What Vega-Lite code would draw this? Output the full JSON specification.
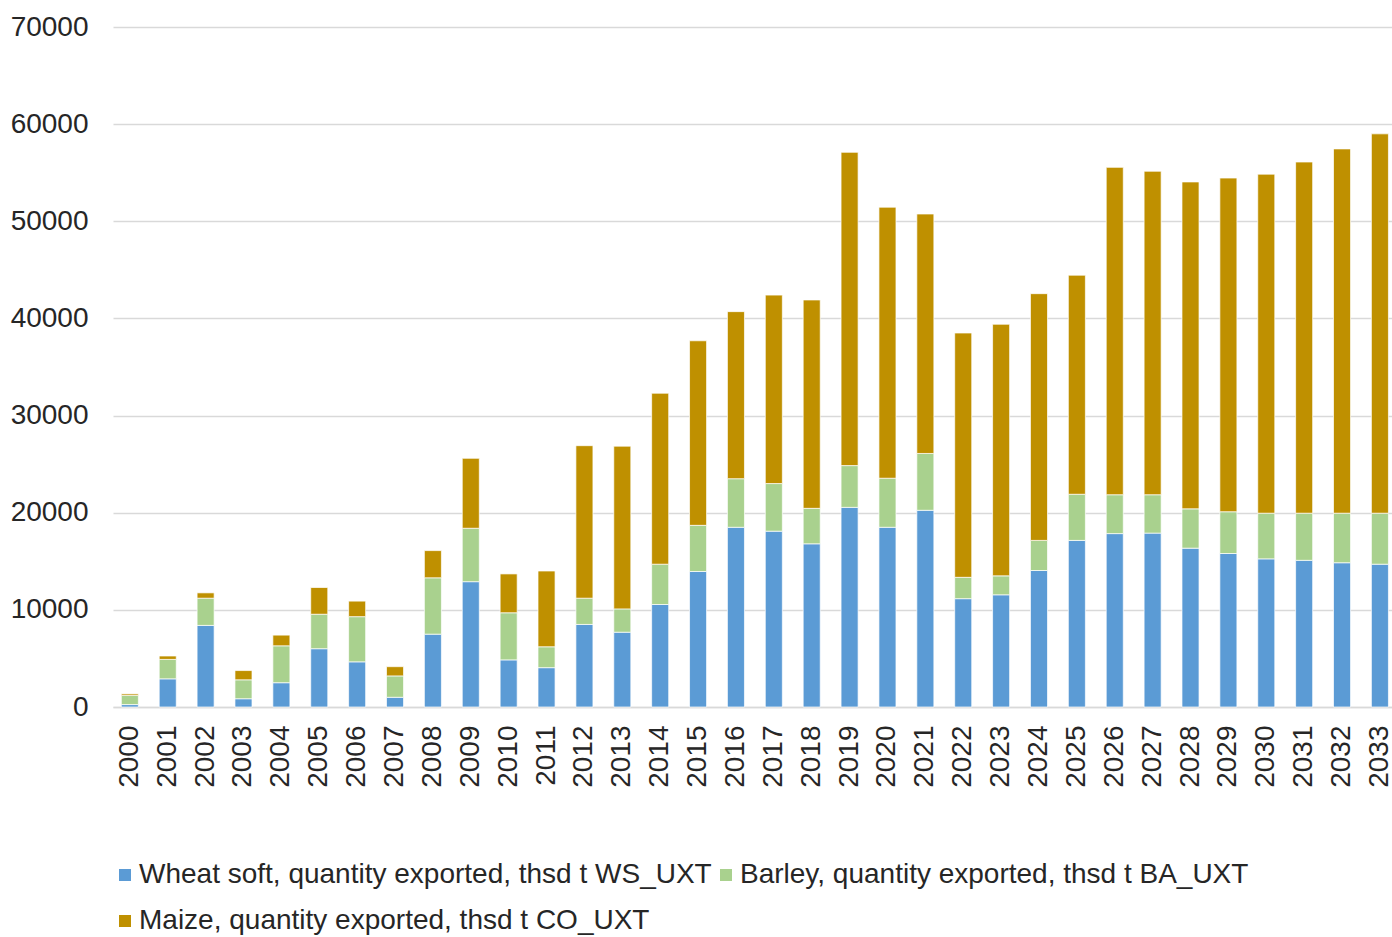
{
  "$schema": "https://vega.github.io/schema/vega-lite/v6.json",
  "width": 1279,
  "height": 680,
  "autosize": "none",
  "padding": {"left": 113, "top": 27, "right": 0, "bottom": 230},
  "background": "white",
  "config": {
    "view": {"stroke": null},
    "font": "Liberation Sans"
  },
  "data": {
    "values": [
      {"year": "2000", "wheat": 250, "barley": 950, "maize": 150},
      {"year": "2001", "wheat": 2900, "barley": 2000, "maize": 350},
      {"year": "2002", "wheat": 8400, "barley": 2800, "maize": 550},
      {"year": "2003", "wheat": 850, "barley": 1950, "maize": 950},
      {"year": "2004", "wheat": 2500, "barley": 3800, "maize": 1100},
      {"year": "2005", "wheat": 6000, "barley": 3550, "maize": 2750},
      {"year": "2006", "wheat": 4650, "barley": 4650, "maize": 1600},
      {"year": "2007", "wheat": 1000, "barley": 2200, "maize": 950},
      {"year": "2008", "wheat": 7500, "barley": 5800, "maize": 2800},
      {"year": "2009", "wheat": 12900, "barley": 5500, "maize": 7200},
      {"year": "2010", "wheat": 4850, "barley": 4850, "maize": 4000},
      {"year": "2011", "wheat": 4050, "barley": 2150, "maize": 7800},
      {"year": "2012", "wheat": 8500, "barley": 2700, "maize": 15700},
      {"year": "2013", "wheat": 7700, "barley": 2400, "maize": 16750},
      {"year": "2014", "wheat": 10550, "barley": 4150, "maize": 17600},
      {"year": "2015", "wheat": 13950, "barley": 4750, "maize": 19000},
      {"year": "2016", "wheat": 18500, "barley": 5000, "maize": 17200},
      {"year": "2017", "wheat": 18100, "barley": 4900, "maize": 19400},
      {"year": "2018", "wheat": 16800, "barley": 3650, "maize": 21450},
      {"year": "2019", "wheat": 20550, "barley": 4300, "maize": 32250},
      {"year": "2020", "wheat": 18500, "barley": 5050, "maize": 27900},
      {"year": "2021", "wheat": 20250, "barley": 5850, "maize": 24650},
      {"year": "2022", "wheat": 11150, "barley": 2200, "maize": 25150},
      {"year": "2023", "wheat": 11550, "barley": 1950, "maize": 25900},
      {"year": "2024", "wheat": 14050, "barley": 3100, "maize": 25400},
      {"year": "2025", "wheat": 17150, "barley": 4750, "maize": 22550},
      {"year": "2026", "wheat": 17850, "barley": 4000, "maize": 33700},
      {"year": "2027", "wheat": 17900, "barley": 3950, "maize": 33300},
      {"year": "2028", "wheat": 16350, "barley": 4050, "maize": 33650},
      {"year": "2029", "wheat": 15800, "barley": 4300, "maize": 34350},
      {"year": "2030", "wheat": 15250, "barley": 4700, "maize": 34900},
      {"year": "2031", "wheat": 15100, "barley": 4850, "maize": 36150},
      {"year": "2032", "wheat": 14850, "barley": 5100, "maize": 37500},
      {"year": "2033", "wheat": 14700, "barley": 5250, "maize": 39050}
    ]
  },
  "transform": [
    {"fold": ["wheat", "barley", "maize"], "as": ["crop", "value"]},
    {"window": [{"op": "row_number", "as": "stackIndex"}], "groupby": ["year"]}
  ],
  "mark": {"type": "bar", "stroke": "#ffffff", "strokeWidth": 1, "strokeOpacity": 0.7},
  "encoding": {
    "x": {
      "field": "year",
      "type": "nominal",
      "scale": {"paddingInner": 0.55, "paddingOuter": 0.157, "align": 0.7},
      "axis": {
        "title": null,
        "labelAngle": -90,
        "labelFontSize": 28,
        "labelColor": "#262626",
        "labelPadding": 18,
        "ticks": false,
        "domainColor": "#d9d9d9",
        "domainWidth": 1.5
      }
    },
    "y": {
      "field": "value",
      "type": "quantitative",
      "stack": "zero",
      "scale": {"domain": [0, 70000], "nice": false},
      "axis": {
        "title": null,
        "values": [0, 10000, 20000, 30000, 40000, 50000, 60000, 70000],
        "format": "d",
        "labelFontSize": 28,
        "labelColor": "#262626",
        "labelPadding": 25,
        "ticks": false,
        "domain": false,
        "gridColor": "#d9d9d9",
        "gridWidth": 1.5
      }
    },
    "color": {
      "field": "crop",
      "type": "nominal",
      "sort": ["wheat", "barley", "maize"],
      "scale": {
        "domain": ["wheat", "barley", "maize"],
        "range": ["#5B9BD5", "#A9D18E", "#BF9000"]
      },
      "legend": {
        "title": null,
        "orient": "none",
        "legendX": -2,
        "legendY": 834,
        "direction": "horizontal",
        "columns": 2,
        "columnPadding": -1,
        "rowPadding": 18,
        "symbolType": "square",
        "symbolSize": 144,
        "symbolStrokeWidth": 0,
        "labelFontSize": 28,
        "labelColor": "#262626",
        "labelOffset": 0,
        "labelLimit": 0,
        "labelExpr": "datum.value == 'wheat' ? 'Wheat soft, quantity exported, thsd t WS_UXT' : datum.value == 'barley' ? 'Barley, quantity exported, thsd t BA_UXT' : 'Maize, quantity exported, thsd t CO_UXT'"
      }
    },
    "order": {"field": "stackIndex", "type": "quantitative", "sort": "ascending"}
  }
}
